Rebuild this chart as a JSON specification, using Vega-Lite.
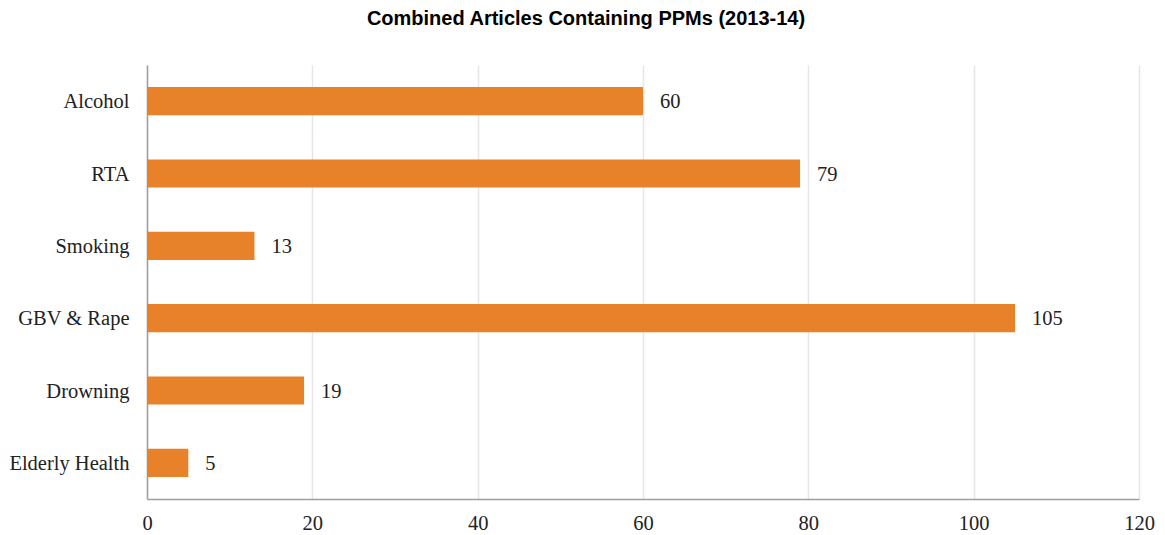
{
  "$schema": "https://vega.github.io/schema/vega-lite/v6.json",
  "width": 992,
  "height": 434,
  "autosize": {"type": "none"},
  "padding": {"left": 147, "top": 65, "right": 26, "bottom": 36},
  "background": "white",
  "title": {
    "text": "Combined Articles Containing PPMs (2013-14)",
    "font": "Liberation Sans",
    "fontSize": 20,
    "fontWeight": "bold",
    "color": "#000000",
    "anchor": "middle",
    "dx": -57,
    "offset": 36
  },
  "data": {
    "values": [
      {"topic": "Alcohol", "articles": 60},
      {"topic": "RTA", "articles": 79},
      {"topic": "Smoking", "articles": 13},
      {"topic": "GBV & Rape", "articles": 105},
      {"topic": "Drowning", "articles": 19},
      {"topic": "Elderly Health", "articles": 5}
    ]
  },
  "encoding": {
    "y": {
      "field": "topic",
      "type": "nominal",
      "sort": null,
      "scale": {"paddingInner": 0.61, "paddingOuter": 0.305},
      "axis": {
        "title": null,
        "ticks": false,
        "domainColor": "#9e9e9e",
        "domainWidth": 1.5,
        "labelFont": "Liberation Serif",
        "labelFontSize": 20.5,
        "labelColor": "#222222",
        "labelPadding": 18,
        "labelBaseline": "middle",
        "labelOffset": 1
      }
    },
    "x": {
      "field": "articles",
      "type": "quantitative",
      "scale": {"domain": [0, 120], "nice": false},
      "axis": {
        "title": null,
        "values": [0, 20, 40, 60, 80, 100, 120],
        "ticks": false,
        "labelFlush": false,
        "domainColor": "#9e9e9e",
        "domainWidth": 1.5,
        "gridColor": "#e6e6e6",
        "gridWidth": 1.5,
        "labelFont": "Liberation Serif",
        "labelFontSize": 20.5,
        "labelColor": "#222222",
        "labelPadding": 14
      }
    }
  },
  "layer": [
    {"mark": {"type": "bar", "color": "#E8822A"}},
    {
      "mark": {
        "type": "text",
        "align": "left",
        "baseline": "middle",
        "dx": 17,
        "dy": 1,
        "font": "Liberation Serif",
        "fontSize": 20.5,
        "color": "#222222"
      },
      "encoding": {"text": {"field": "articles", "type": "quantitative"}}
    }
  ],
  "config": {"view": {"stroke": null}}
}
